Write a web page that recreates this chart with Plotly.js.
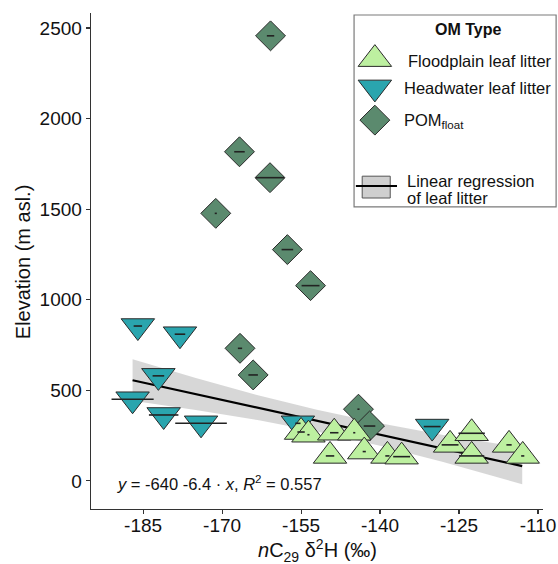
<!DOCTYPE html>
<html>
<head>
<meta charset="utf-8">
<script src="https://cdn.plot.ly/plotly-3.0.1.min.js"></script>
<style>html,body{margin:0;padding:0;background:#fff;}#chart{width:558px;height:564px;}</style>
</head>
<body>
<div id="chart"></div>
<script>
// ---- Data ----
var floodX = [-155.0, -153.6, -148.7, -144.9, -149.5, -143.0, -138.6, -135.9, -126.7, -122.6, -122.6, -115.5, -112.9];
var floodY = [270, 255, 266, 266, 138, 162, 138, 134, 199, 263, 138, 199, 138];
var floodErr = [0.7, 0.2, 0.8, 0.2, 0.8, 0.3, 0.4, 1.6, 1.6, 2.5, 2.4, 0.5, 0.3];

var headX = [-186.0, -178.0, -182.1, -187.0, -181.1, -174.0, -155.6, -130.1];
var headY = [855, 810, 580, 451, 364, 318, 318, 300];
var headErr = [0.8, 1.0, 1.1, 4.0, 2.8, 4.9, 0.5, 1.6];

var pomX = [-160.8, -166.7, -160.9, -171.2, -157.6, -153.2, -166.6, -164.1, -144.1, -142.0];
var pomY = [2457, 1817, 1674, 1477, 1277, 1078, 732, 585, 396, 303];
var pomErr = [0.7, 1.0, 2.7, 0.2, 1.1, 1.7, 0.4, 0.9, 0.2, 1.1];

// regression of leaf litter (line ends and confidence band)
var regX = [-187, -113];
var regY = [556, 82];
var bandX = [-187, -175, -163, -152, -140, -128, -113];
var bandUpper = [672, 568, 471, 393, 318, 254, 184];
var bandLower = [442, 392, 335, 273, 194, 104, -18];

var xTicks = [-185, -170, -155, -140, -125, -110];
var yTicks = [0, 500, 1000, 1500, 2000, 2500];

var colFlood = '#bdf0a0', colHead = '#2aa5ae', colPom = '#5b8a6e', colEdge = '#2a2a2a';

var FONT = 'Liberation Sans, Arial, Helvetica, sans-serif';

var traces = [];
// confidence band
traces.push({
  x: bandX.concat(bandX.slice().reverse()),
  y: bandUpper.concat(bandLower.slice().reverse()),
  type: 'scatter', mode: 'lines', fill: 'toself',
  fillcolor: 'rgba(175,175,175,0.5)', line: {width: 0}, hoverinfo: 'skip', showlegend: false
});
// regression line
traces.push({x: regX, y: regY, type: 'scatter', mode: 'lines', line: {color: '#000', width: 2.2}, showlegend: false});

function pts(x, y, sym, size, col) {
  return {x: x, y: y, type: 'scatter', mode: 'markers', showlegend: false, cliponaxis: false,
    marker: {symbol: sym, size: size, color: col, line: {color: colEdge, width: 1}}};
}
traces.push(pts(pomX, pomY, 'diamond', 23, colPom));
traces.push(pts(headX, headY, 'triangle-down', 29, colHead));
traces.push(pts(floodX, floodY, 'triangle-up', 29, colFlood));

function errs(x, y, e) {
  return {x: x, y: y, type: 'scatter', mode: 'markers', showlegend: false, hoverinfo: 'skip',
    marker: {size: 1, opacity: 0},
    error_x: {type: 'data', array: e, visible: true, color: '#222', thickness: 1.6, width: 0}};
}
traces.push(errs(pomX, pomY, pomErr));
traces.push(errs(headX, headY, headErr));
traces.push(errs(floodX, floodY, floodErr));

// legend glyphs on an overlay axis in paper-like units
var legGX = [0.628, 0.628, 0.628];
var legGY = [0.907, 0.850, 0.784];
traces.push({x: [legGX[0]], y: [legGY[0]], xaxis: 'x2', yaxis: 'y2', type: 'scatter', mode: 'markers', showlegend: false, cliponaxis: false,
  marker: {symbol: 'triangle-up', size: 29, color: colFlood, line: {color: colEdge, width: 1}}});
traces.push({x: [legGX[1]], y: [legGY[1]], xaxis: 'x2', yaxis: 'y2', type: 'scatter', mode: 'markers', showlegend: false, cliponaxis: false,
  marker: {symbol: 'triangle-down', size: 29, color: colHead, line: {color: colEdge, width: 1}}});
traces.push({x: [legGX[2]], y: [legGY[2]], xaxis: 'x2', yaxis: 'y2', type: 'scatter', mode: 'markers', showlegend: false, cliponaxis: false,
  marker: {symbol: 'diamond', size: 23, color: colPom, line: {color: colEdge, width: 1}}});

function ann(text, x, y, size, opts) {
  var a = {text: text, x: x, y: y, xref: 'paper', yref: 'paper', showarrow: false,
    xanchor: 'left', yanchor: 'middle', font: {family: FONT, size: size, color: '#111'}};
  for (var k in opts) a[k] = opts[k];
  return a;
}

var layout = {
  width: 558, height: 564,
  margin: {l: 91, r: 15, t: 13, b: 55},
  paper_bgcolor: '#fff', plot_bgcolor: '#fff',
  showlegend: false,
  font: {family: FONT, color: '#111'},
  xaxis: {range: [-194.9, -109.05], tickvals: xTicks, ticktext: xTicks.map(String),
    showgrid: false, zeroline: false, showline: true, linecolor: '#333', linewidth: 1.3,
    ticks: 'outside', ticklen: 4, tickcolor: '#333', tickwidth: 1.1, ticklabelstandoff: -5,
    tickfont: {family: FONT, size: 19, color: '#111'}},
  yaxis: {range: [-155, 2583], tickvals: yTicks, ticktext: yTicks.map(String),
    showgrid: false, zeroline: false, showline: true, linecolor: '#333', linewidth: 1.3,
    ticks: 'outside', ticklen: 4, tickcolor: '#333', tickwidth: 1.1,
    tickfont: {family: FONT, size: 19, color: '#111'}},
  xaxis2: {overlaying: 'x', range: [0, 1], visible: false, fixedrange: true},
  yaxis2: {overlaying: 'y', range: [0, 1], visible: false, fixedrange: true},
  shapes: [
    {type: 'rect', xref: 'paper', yref: 'paper', x0: 0.582, x1: 1.029, y0: 0.609, y1: 0.996,
      line: {color: '#7a7a7a', width: 1.2}, fillcolor: 'rgba(255,255,255,0)', layer: 'below'},
    {type: 'rect', xref: 'paper', yref: 'paper', x0: 0.600, x1: 0.662, y0: 0.627, y1: 0.671,
      line: {color: '#555', width: 1}, fillcolor: '#cfcfcf', layer: 'above'},
    {type: 'line', xref: 'paper', yref: 'paper', x0: 0.586, x1: 0.677, y0: 0.651, y1: 0.651,
      line: {color: '#000', width: 2}, layer: 'above'}
  ],
  annotations: [
    ann('<b>OM Type</b>', 0.834, 0.966, 16, {xanchor: 'center'}),
    ann('Floodplain leaf litter', 0.696, 0.903, 16.5),
    ann('Headwater leaf litter', 0.6875, 0.849, 16.5),
    ann('POM<sub>float</sub>', 0.6875, 0.782, 16.5),
    ann('Linear regression', 0.695, 0.661, 16.5),
    ann('of leaf litter', 0.695, 0.627, 16.5),
    ann('<i>y</i> = -640 -6.4 · <i>x</i>, <i>R</i><sup>2</sup> = 0.557', 0.053, 0.052, 16.5),
    ann('<i>n</i>C<sub>29</sub> δ<sup>2</sup>H (‰)', 0.5, -0.083, 20, {xanchor: 'center'}),
    ann('Elevation (m asl.)', -0.150, 0.498, 20, {xanchor: 'center', textangle: -90})
  ]
};

Plotly.newPlot('chart', traces, layout, {displayModeBar: false, staticPlot: true});
</script>
</body>
</html>
